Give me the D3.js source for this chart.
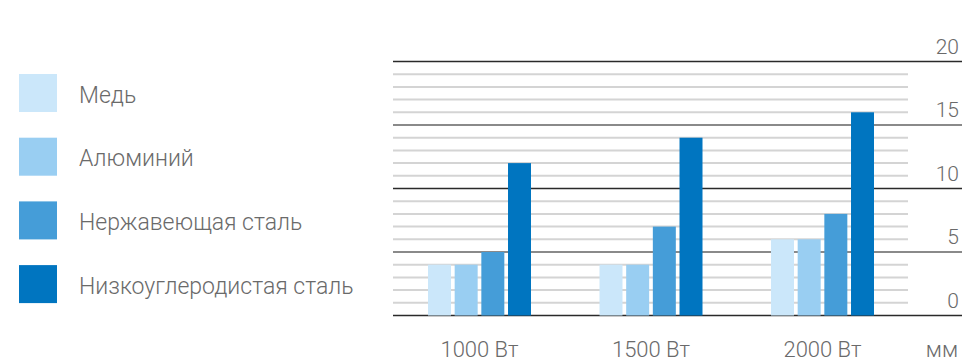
<!DOCTYPE html>
<html><head><meta charset="utf-8">
<script src="https://cdn.jsdelivr.net/npm/d3@7"></script>
<style>
html,body{margin:0;padding:0;background:#fff;}
svg{display:block;}
text{font-family:Roboto,"Noto Sans",sans-serif;font-weight:300;fill:#6a6a6a;}
</style></head>
<body>
<svg id="c" width="962" height="360"></svg>
<script>
const groups = ["1000 Вт", "1500 Вт", "2000 Вт"];
const series = ["Медь", "Алюминий", "Нержавеющая сталь", "Низкоуглеродистая сталь"];
const colors = ["#cbe7fa", "#99cef2", "#459dd8", "#0075c0"];
const values = [
  [4, 4, 5, 12],
  [4, 4, 7, 14],
  [6, 6, 8, 16]
];
const yTicks = [0, 5, 10, 15, 20];
const unitLabel = "мм";

const svg = d3.select("#c");
const left = 393, gridRight = 908, right = 962;
const y = d3.scaleLinear().domain([0, 20]).range([315.5, 61.5]);
const x0 = d3.scaleBand().domain(groups).range([393.75, 908.25]);
const x1 = d3.scaleBand().domain(series).range([34.25, 137.25]).paddingInner(0.138);

// minor gridlines
const minor = d3.range(1, 20).filter(v => v % 5 !== 0);
svg.append("g").selectAll("line").data(minor).join("line")
  .attr("x1", left).attr("x2", gridRight)
  .attr("y1", d => y(d)).attr("y2", d => y(d))
  .attr("stroke", "#d4d4d4").attr("stroke-width", 2);

// major gridlines
svg.append("g").selectAll("line").data(yTicks).join("line")
  .attr("x1", left).attr("x2", right)
  .attr("y1", d => y(d)).attr("y2", d => y(d))
  .attr("stroke", d => (d % 10 === 0 ? "#2a2a2a" : "#8a8a8a"))
  .attr("stroke-width", d => (d % 10 === 0 ? 1.5 : 2));

// bars
const g = svg.append("g");
groups.forEach((grp, gi) => {
  g.append("g").attr("transform", `translate(${x0(grp)},0)`)
    .selectAll("rect").data(values[gi]).join("rect")
    .attr("x", (d, i) => x1(series[i]))
    .attr("width", x1.bandwidth())
    .attr("y", d => y(d))
    .attr("height", d => y(0) - y(d))
    .attr("fill", (d, i) => colors[i]);
});

// y labels
svg.append("g").selectAll("text").data(yTicks).join("text")
  .attr("x", 959).attr("y", d => y(d) - 8)
  .attr("text-anchor", "end").attr("font-size", 21)
  .text(d => d);

// x labels
svg.append("g").selectAll("text").data(groups).join("text")
  .attr("x", d => x0(d) + x0.bandwidth() / 2).attr("y", 356.5)
  .attr("text-anchor", "middle").attr("font-size", 22)
  .text(d => d);
svg.append("text").attr("x", 958).attr("y", 356.5)
  .attr("text-anchor", "end").attr("font-size", 22).text(unitLabel);

// legend
const lg = svg.append("g").selectAll("g").data(series).join("g")
  .attr("transform", (d, i) => `translate(19,${74 + i * 63.7})`);
lg.append("rect").attr("width", 38).attr("height", 38).attr("fill", (d, i) => colors[i]);
lg.append("text").attr("x", 60).attr("y", 28.5).attr("font-size", 23).text(d => d);
</script>
</body></html>
